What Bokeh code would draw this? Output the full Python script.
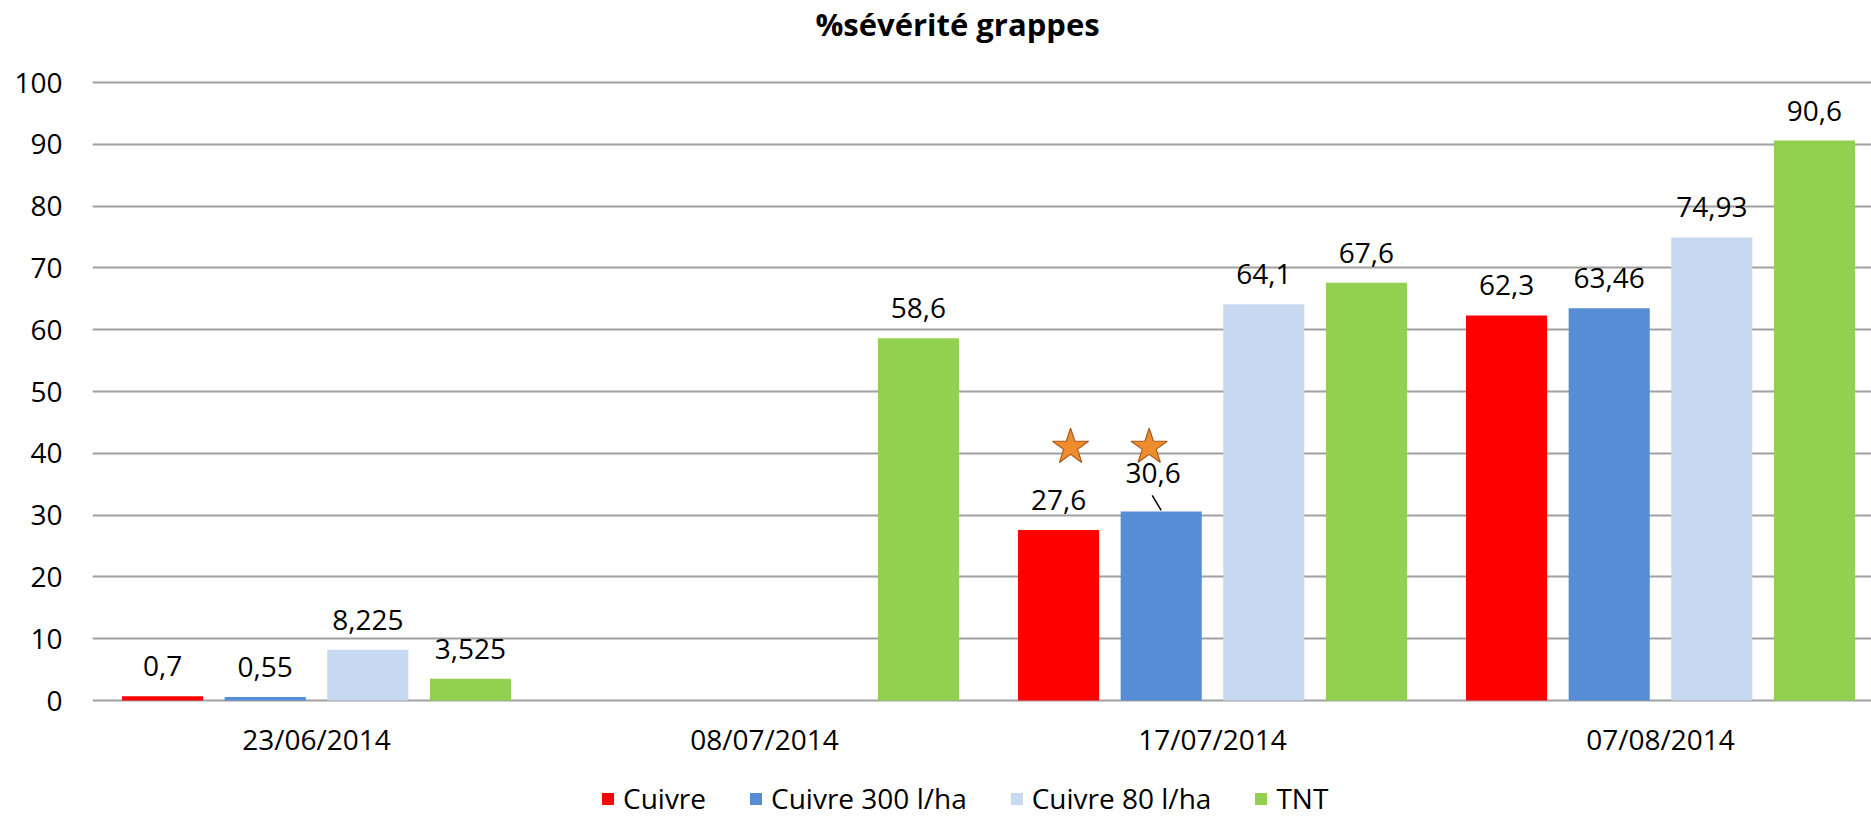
from bokeh.plotting import figure
from bokeh.models import ColumnDataSource, Range1d, FixedTicker, Legend, LegendItem, Label
from bokeh.embed import file_html
from bokeh.resources import INLINE
from bokeh.core.properties import value

# ---------------- data ----------------
title = "%sévérité grappes"
dates = ["23/06/2014", "08/07/2014", "17/07/2014", "07/08/2014"]
series = ["Cuivre", "Cuivre 300 l/ha", "Cuivre 80 l/ha", "TNT"]
cuivre = [0.7, None, 27.6, 62.3]
cuivre_300 = [0.55, None, 30.6, 63.46]
cuivre_80 = [8.225, None, 64.1, 74.93]
tnt = [3.525, 58.6, 67.6, 90.6]
y_ticks = [0, 10, 20, 30, 40, 50, 60, 70, 80, 90, 100]
star_date = "17/07/2014"
star_series = ["Cuivre", "Cuivre 300 l/ha"]
star_level = 41
leader_label = ("17/07/2014", "Cuivre 300 l/ha")

values = [cuivre, cuivre_300, cuivre_80, tnt]
colors = ["#FF0000", "#558ED5", "#C6D9F1", "#92D050"]
offsets = [-0.3436, -0.1145, 0.1145, 0.3436]
bar_w = 0.181
FONT = "Open Sans"

# layout (pixels): plot area from y=82 (value 100) to y=700 (value 0)
W, H = 1871, 817
LEFT = 92
Y100, Y0 = 82, 700
ppu = (Y0 - Y100) / 100.0
y_start = -(H - Y0) / ppu
y_end = 100 + Y100 / ppu
x_start, x_end = -0.5, 3.471

p = figure(width=W, height=H, output_backend="svg", toolbar_location=None,
           x_axis_location=None,
           x_range=Range1d(x_start, x_end), y_range=Range1d(y_start, y_end),
           min_border_left=LEFT, min_border_right=0, min_border_top=0,
           min_border_bottom=0)
p.outline_line_color = None
p.background_fill_color = "white"
p.border_fill_color = "white"

px_per_unit = (W - LEFT) / (x_end - x_start)

renderers = []
for i, (name, vals) in enumerate(zip(series, values)):
    xs, ys, texts, xo, yo = [], [], [], [], []
    for g, v in enumerate(vals):
        if v is None:
            continue
        xs.append(g + offsets[i])
        ys.append(v)
        texts.append(str(v).replace(".", ","))
        if (dates[g], name) == leader_label:
            xo.append(-8)
            yo.append(-38)
        else:
            xo.append(0)
            yo.append(-30)
    src = ColumnDataSource(dict(x=xs, top=ys, text=texts, xo=xo, yo=yo))
    r = p.vbar(x="x", top="top", width=bar_w, bottom=0, source=src,
               fill_color=colors[i], line_color=None)
    renderers.append(r)
    p.text(x="x", y="top", text="text", source=src, x_offset="xo", y_offset="yo",
           text_align="center", text_baseline="alphabetic",
           text_font=value(FONT), text_font_size="28px", text_color="black")

# leader line for the shifted label
g = dates.index(leader_label[0])
si = series.index(leader_label[1])
bx = g + offsets[si]
bv = values[si][g]
p.segment(x0=[bx - 9 / px_per_unit], y0=[bv + 16 / ppu],
          x1=[bx], y1=[bv + 1 / ppu], line_color="black", line_width=1.5)

# stars (nudged slightly toward each other, as in the original annotation)
sg = dates.index(star_date)
sx = [sg + offsets[series.index(s)] for s in star_series]
mid = sum(sx) / len(sx)
sx = [x + (12 / px_per_unit) * (1 if x < mid else -1) for x in sx]
p.scatter(x=sx, y=[star_level] * len(sx), marker="star", size=38,
          fill_color="#EE8C2E", line_color="#A65B1B", line_width=1.2)

# category labels under the zero line
p.text(x=list(range(len(dates))), y=[0] * len(dates), text=dates, y_offset=38,
       text_align="center", text_baseline="alphabetic",
       text_font=value(FONT), text_font_size="28px", text_color="black")

# grids / y axis
for gr in p.xgrid:
    gr.visible = False
p.ygrid.ticker = FixedTicker(ticks=y_ticks)
p.ygrid.grid_line_color = "#A0A0A0"
p.ygrid.grid_line_width = 2

ya = p.yaxis[0]
ya.ticker = FixedTicker(ticks=y_ticks)
ya.axis_line_color = None
ya.major_tick_line_color = None
ya.minor_tick_line_color = None
ya.major_label_text_font = FONT
ya.major_label_text_font_size = "28px"
ya.major_label_text_color = "black"
ya.major_label_standoff = 24

# title
p.add_layout(Label(x=957 - LEFT, y=H - 23, x_units="screen", y_units="screen",
                   text=title, text_align="center", text_baseline="alphabetic",
                   text_font=FONT, text_font_style="bold", text_font_size="31px",
                   text_color="black"))

legend = Legend(items=[LegendItem(label=s, renderers=[r]) for s, r in zip(series, renderers)],
                orientation="horizontal", location=(600 - LEFT, 0),
                glyph_width=15, glyph_height=15, label_standoff=8, spacing=42,
                padding=0, margin=0, border_line_color=None, background_fill_alpha=0,
                label_text_font=FONT, label_text_font_size="28px", label_text_color="black")
p.add_layout(legend)

open("out.html", "w").write(file_html(p, INLINE))
